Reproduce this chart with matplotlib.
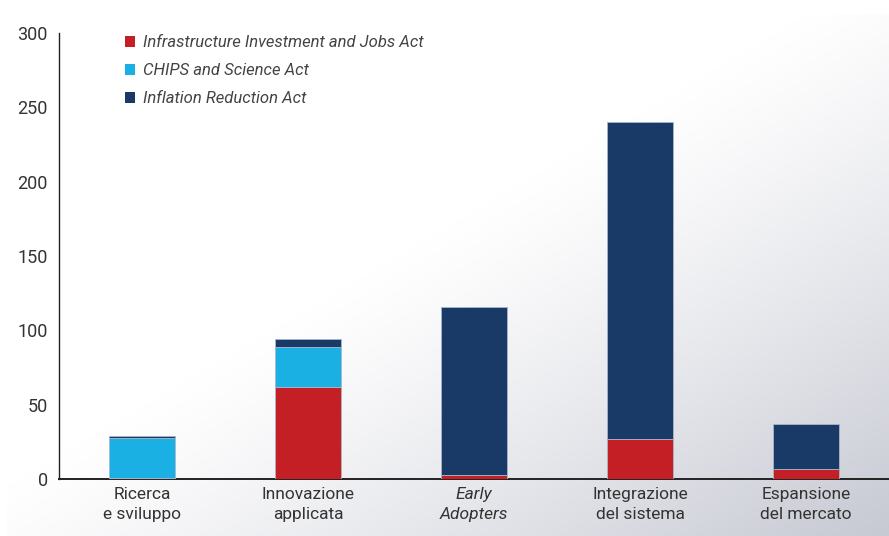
import numpy as np
import matplotlib
matplotlib.use("Agg")
import matplotlib.pyplot as plt
from matplotlib.patches import Patch
from matplotlib.colors import LinearSegmentedColormap

categories = ["Ricerca\ne sviluppo", "Innovazione\napplicata", "Early\nAdopters",
              "Integrazione\ndel sistema", "Espansione\ndel mercato"]
series_names = ["Infrastructure Investment and Jobs Act", "CHIPS and Science Act",
                "Inflation Reduction Act"]
iija = [0.7, 61.8, 2.7, 27.0, 6.7]
chips = [26.6, 26.7, 0.0, 0.0, 0.0]
ira = [1.7, 5.7, 113.3, 213.0, 30.2]
yticks = [0, 50, 100, 150, 200, 250, 300]

colors = ["#c41f25", "#1bb0e4", "#193a66"]

plt.rcParams['font.family'] = ['Roboto', 'DejaVu Sans']

W, H = 889, 536
fig = plt.figure(figsize=(W / 100, H / 100), dpi=100)

# background gradient panel
bg = fig.add_axes([7 / W, 0.0 / H, 1 - 7 / W, (536 - 14) / H], zorder=-10)
nx, ny = 300, 200
xx, yy = np.meshgrid(np.linspace(0, 1, nx), np.linspace(0, 1, ny))
t = (xx + yy) / 2.0
t = np.clip((t - 0.45) / 0.55, 0, 1) ** 1.2
cmap = LinearSegmentedColormap.from_list("bgc", ["#ffffff", "#c7c9d3"])
bg.imshow(t, cmap=cmap, aspect='auto', extent=[0, 1, 0, 1], origin='upper', vmin=0, vmax=1)
bg.axis('off')

ax = fig.add_axes([59 / W, 1 - 479 / H, 1 - 59 / W, (479 - 33) / H])
ax.patch.set_alpha(0)

x = np.arange(len(categories))
bottom = np.zeros(len(categories))
for vals, c, name in zip([iija, chips, ira], colors, series_names):
    ax.bar(x, vals, width=0.4, bottom=bottom, color=c, edgecolor="#a9b6cc",
           linewidth=0.6, label=name, zorder=3)
    bottom = bottom + np.array(vals)

ax.set_xlim(-0.5, 4.5)
ax.set_ylim(0, 300)
ax.set_yticks(yticks)
ax.set_yticklabels([str(v) for v in yticks])
ax.set_xticks(x)
ax.set_xticklabels(categories)
for lbl in ax.get_xticklabels():
    if lbl.get_text().startswith("Early"):
        lbl.set_fontstyle('italic')
ax.tick_params(axis='both', length=0, colors="#333333")
ax.tick_params(axis='y', pad=8, labelsize=13)
ax.tick_params(axis='x', pad=6, labelsize=12.5)
for lbl in ax.get_xticklabels():
    lbl.set_linespacing(1.4)
for s in ['top', 'right']:
    ax.spines[s].set_visible(False)
ax.spines['left'].set_color("#222222")
ax.spines['bottom'].set_color("#222222")
ax.spines['left'].set_linewidth(1.0)
ax.spines['bottom'].set_linewidth(1.4)

handles = [Patch(facecolor=c, edgecolor='none') for c in colors]
leg = ax.legend(handles, series_names, loc='upper left', bbox_to_anchor=(0.072, 1.01),
                frameon=False, fontsize=12, handlelength=0.6, handleheight=0.6,
                handletextpad=0.45, labelspacing=0.78, borderaxespad=0)
for txt in leg.get_texts():
    txt.set_fontstyle('italic')
    txt.set_color("#444444")

fig.savefig("out.png", dpi=100)
